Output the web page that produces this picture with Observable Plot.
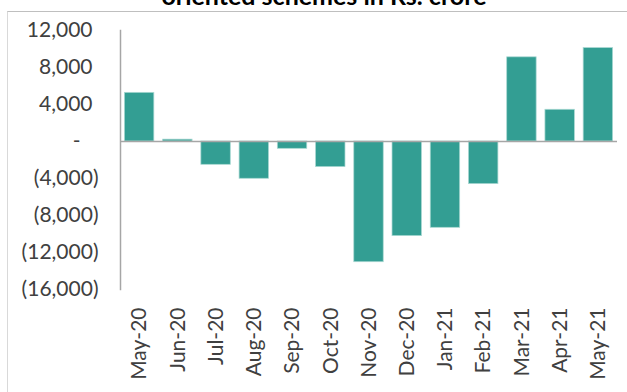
<!DOCTYPE html>
<html><head><meta charset="utf-8">
<script src="https://cdn.jsdelivr.net/npm/d3@7"></script>
<script src="https://cdn.jsdelivr.net/npm/@observablehq/plot@0.6"></script>
<style>
body{margin:0;background:#fff;overflow:hidden}
#wrap{position:relative;width:627px;height:392px;overflow:hidden;font-family:Lato,sans-serif}
#title{position:absolute;left:0;width:648px;text-align:center;top:-17px;line-height:25px;font-weight:bold;font-size:25px;color:#000;white-space:nowrap}
#frame{position:absolute;left:7px;top:11px;width:700px;height:500px;border-left:1px solid #d9d9d9;border-top:1px solid #bfbfbf}
#chart{position:absolute;left:0;top:0}
</style></head><body>
<div id="wrap"><div id="frame"></div><div id="title">oriented schemes in Rs. crore</div><div id="chart"></div></div>
<script>
const months = ["May-20","Jun-20","Jul-20","Aug-20","Sep-20","Oct-20","Nov-20","Dec-20","Jan-21","Feb-21","Mar-21","Apr-21","May-21"];
const values = [5260, 200, -2520, -4030, -790, -2770, -13050, -10230, -9330, -4610, 9100, 3430, 10100];
const posTicks = [12000, 8000, 4000];
const zeroTicks = [0];
const negTicks = [-4000, -8000, -12000, -16000];

const data = months.map((m, i) => ({month: m, value: values[i]}));
const fmt = d3.format(",");
const txt = "#404040";
const fs = 21;

const chart = Plot.plot({
  width: 627,
  height: 392,
  marginLeft: 120,
  marginRight: 10,
  marginTop: 30,
  marginBottom: 103,
  style: {fontFamily: "Lato, sans-serif", background: "transparent"},
  x: {domain: months, paddingInner: 0.23, paddingOuter: 0.115, round: false, label: null},
  y: {domain: [-16000, 12000], label: null},
  marks: [
    Plot.barY(data, {x: "month", y: "value", fill: "#339e93", stroke: "#a9d8d2", strokeWidth: 0.75}),
    Plot.ruleY([0], {stroke: "#a6a6a6", strokeWidth: 1.5}),
    Plot.frame({anchor: "left", stroke: "#a6a6a6", strokeWidth: 1.5}),
    Plot.axisX({tickSize: 0, tickRotate: -90, tickPadding: 18, fontSize: fs, fill: txt, label: null}),
    Plot.axisY(posTicks, {tickSize: 0, tickPadding: 28, fontSize: fs, fill: txt, tickFormat: d => fmt(d), label: null}),
    Plot.axisY(zeroTicks, {tickSize: 0, tickPadding: 40, fontSize: fs, fill: txt, tickFormat: d => "-", label: null}),
    Plot.axisY(negTicks, {tickSize: 0, tickPadding: 22, fontSize: fs, fill: txt, tickFormat: d => "(" + fmt(-d) + ")", label: null})
  ]
});
document.getElementById("chart").appendChild(chart);
</script>
</body></html>
